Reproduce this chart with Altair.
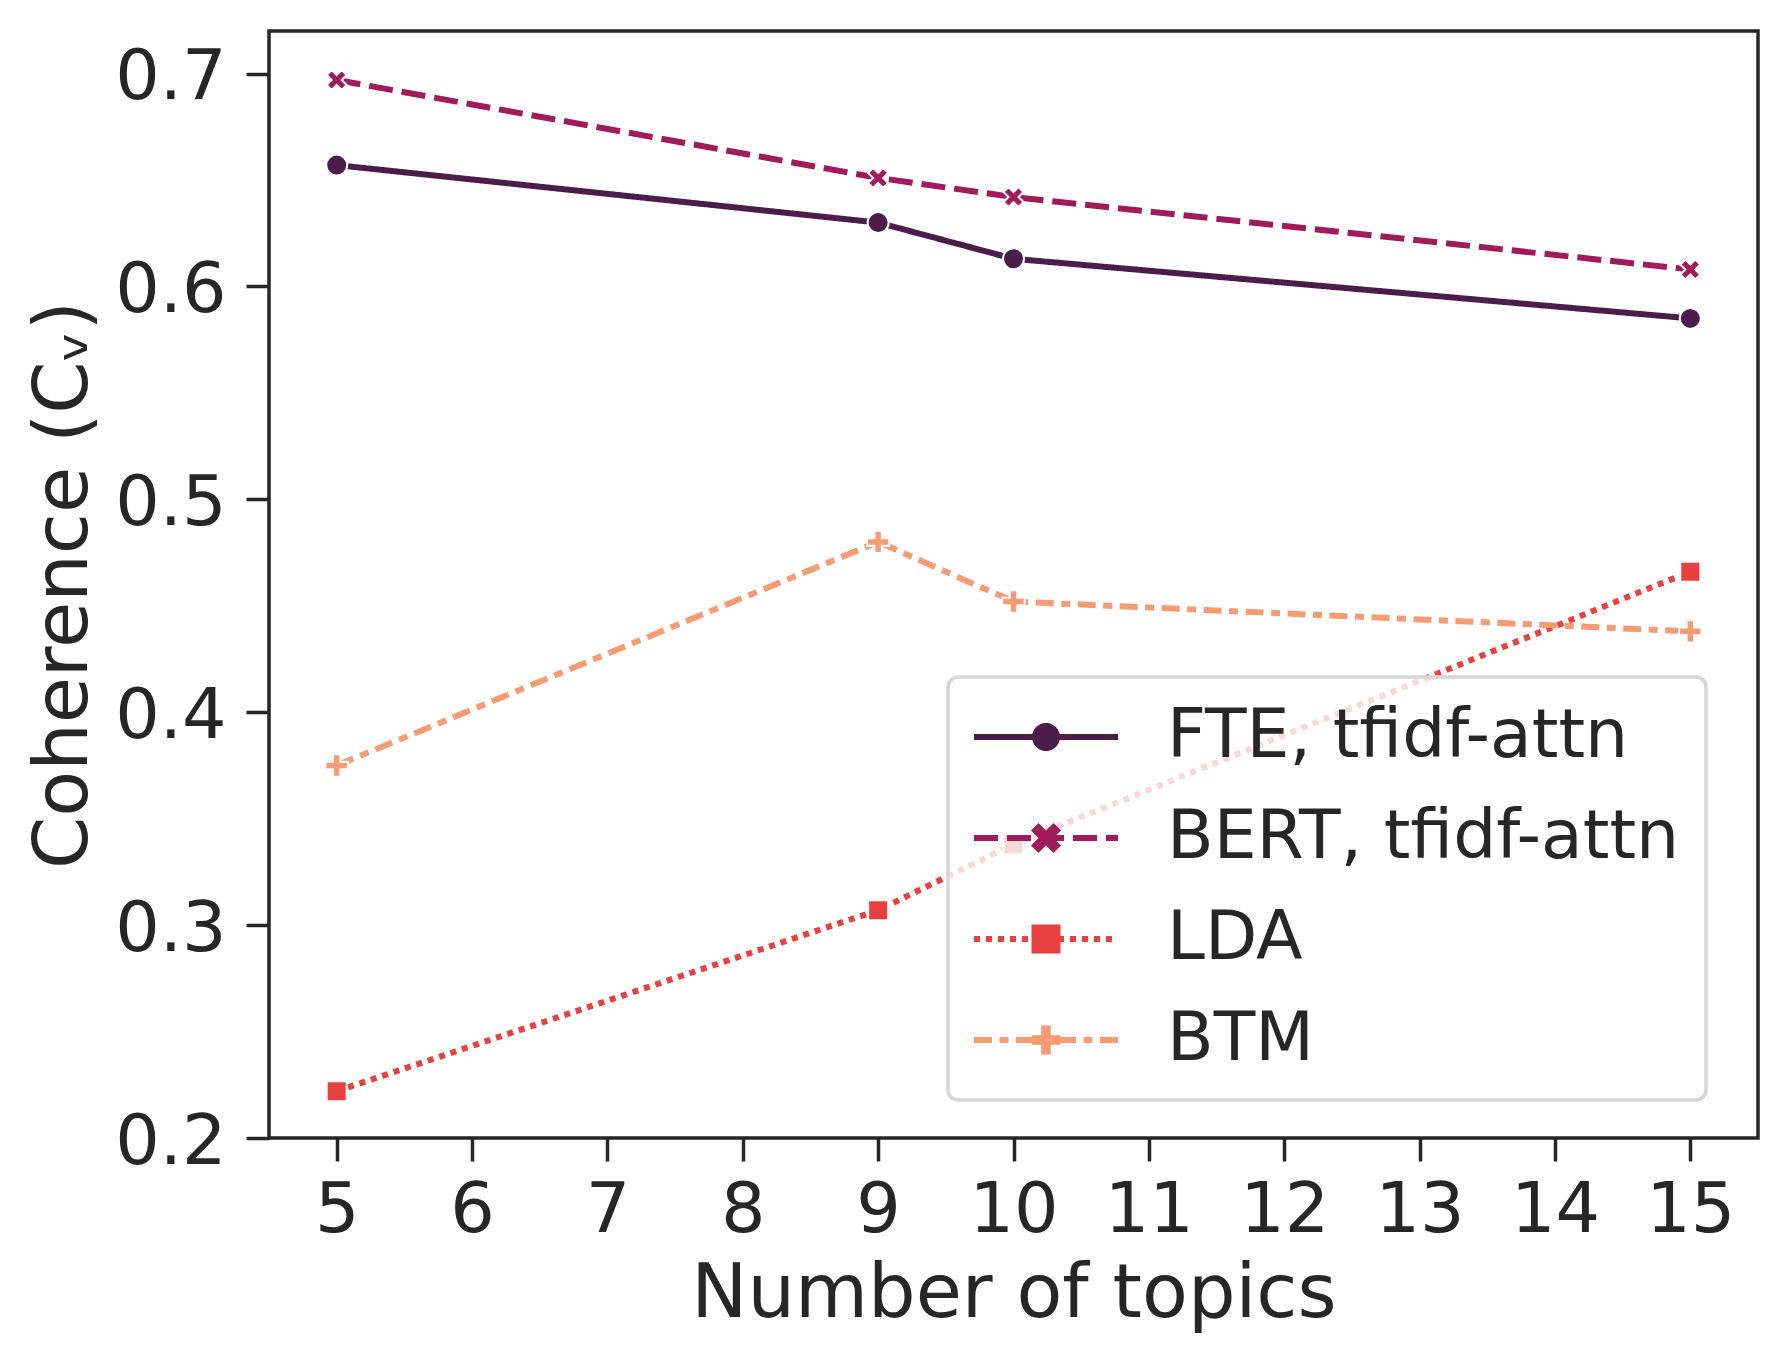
import math
import altair as alt
import pandas as pd

# ---------------- data ----------------
topics = [5, 9, 10, 15]
series = ["FTE, tfidf-attn", "BERT, tfidf-attn", "LDA", "BTM"]
fte = [0.657, 0.630, 0.613, 0.585]
bert = [0.697, 0.651, 0.642, 0.608]
lda = [0.222, 0.307, 0.338, 0.466]
btm = [0.375, 0.480, 0.452, 0.438]
colors = ["#4c1d4b", "#a11a5b", "#e83f3f", "#f69c73"]
y_ticks = [0.2, 0.3, 0.4, 0.5, 0.6, 0.7]
x_ticks = list(range(5, 16))

values = {series[0]: fte, series[1]: bert, series[2]: lda, series[3]: btm}
rows = []
for s in series:
    for t, v in zip(topics, values[s]):
        rows.append({"topics": t, "coherence": v, "series": s})
df = pd.DataFrame(rows)

# ---------------- styles ----------------
INK = "#262626"
FONT = "DejaVu Sans"
LW = 6
dashes = [[1, 0], [24, 9], [6, 6], [18, 7.5, 9, 7.5]]

X_PTS = [(-1, -2), (0, -1), (1, -2), (2, -1), (1, 0), (2, 1), (1, 2), (0, 1),
         (-1, 2), (-2, 1), (-1, 0), (-2, -1)]
P_PTS = [(-1, -3), (1, -3), (1, -1), (3, -1), (3, 1), (1, 1), (1, 3), (-1, 3),
         (-1, 1), (-3, 1), (-3, -1), (-1, -1)]
SQ_PTS = [(-1, -1), (1, -1), (1, 1), (-1, 1)]
CIRC_PTS = [(math.cos(2 * math.pi * k / 48), math.sin(2 * math.pi * k / 48)) for k in range(48)]


def poly(pts, s):
    return "M" + "L".join(f"{x * s:.4f},{y * s:.4f}" for x, y in pts) + "Z"


# data markers (unit box -1..1)
data_shapes = ["circle", poly(X_PTS, 0.5), "square", poly(P_PTS, 1 / 3)]
data_sizes = [441, 400, 400, 500]

# legend symbols: line + marker in one path; U px per path unit
U = 33.0           # sqrt(symbolSize) / 2
HALF = 72.0        # half length of the legend line, px
HW = (LW / 2) / U


def dash_line(pattern):
    L = 2 * HALF
    segs = []
    if pattern == [1, 0]:
        segs = [(0, L)]
    else:
        pos, i = 0.0, 0
        while pos < L:
            d = pattern[i % len(pattern)]
            if i % 2 == 0:
                segs.append((pos, min(pos + d, L)))
            pos += d
            i += 1
    out = ""
    for a, b in segs:
        x0, x1 = (a - HALF) / U, (b - HALF) / U
        out += f"M{x0:.4f},{-HW:.4f}H{x1:.4f}V{HW:.4f}H{x0:.4f}Z"
    return out


legend_markers = [
    poly(CIRC_PTS, 14 / U),
    poly(X_PTS, 15 / U / 2),
    poly(SQ_PTS, 14.5 / U),
    poly(P_PTS, 14.5 / U / 3),
]
legend_shapes = [dash_line(d) + m for d, m in zip(dashes, legend_markers)]

x_enc = alt.X(
    "topics:Q",
    scale=alt.Scale(domain=[4.5, 15.5], nice=False, zero=False),
    axis=alt.Axis(values=x_ticks, title="Number of topics", format="d"),
)
y_enc = alt.Y(
    "coherence:Q",
    scale=alt.Scale(domain=[0.2, 0.72], nice=False, zero=False),
    axis=alt.Axis(values=y_ticks, title="Coherence (Cᵥ)", format=".1f"),
)
color_scale = alt.Scale(domain=series, range=colors)

base = alt.Chart(df)

# invisible layer that only carries the legend (placed first so its legend wins)
leg = alt.Legend(title=None, orient="none", legendX=679, legendY=646)
legend_layer = base.mark_point(filled=True, opacity=0).encode(
    x=x_enc,
    y=y_enc,
    color=alt.Color("series:N", scale=color_scale, legend=leg),
    shape=alt.Shape("series:N", scale=alt.Scale(domain=series, range=legend_shapes), legend=leg),
)

lines = base.mark_line(strokeWidth=LW).encode(
    x=x_enc,
    y=y_enc,
    color=alt.Color("series:N", scale=color_scale, legend=None),
    strokeDash=alt.StrokeDash("series:N", scale=alt.Scale(domain=series, range=dashes), legend=None),
)

marker_layers = []
for s, shp, sz in zip(series, data_shapes, data_sizes):
    marker_layers.append(
        base.transform_filter(alt.datum.series == s)
        .mark_point(shape=shp, size=sz, filled=True, opacity=1, stroke="white", strokeWidth=2)
        .encode(x=x_enc, y=y_enc, color=alt.Color("series:N", scale=color_scale, legend=None))
    )

chart = (
    alt.layer(legend_layer, lines, *marker_layers)
    .properties(
        width=1489,
        height=1107,
        padding={"left": 261, "top": 23, "right": 10, "bottom": 210},
        autosize=alt.AutoSizeParams(type="none"),
        background="white",
    )
    .configure(font=FONT)
    .configure_view(stroke=INK, strokeWidth=3.5)
    .configure_axis(
        domain=False,
        grid=False,
        ticks=True,
        tickColor=INK,
        tickWidth=3.5,
        tickSize=23,
        labelFont=FONT,
        labelFontSize=70,
        labelColor=INK,
        titleFont=FONT,
        titleFontSize=75,
        titleFontWeight="normal",
        titleColor=INK,
    )
    .configure_axisX(labelPadding=15, titlePadding=12)
    .configure_axisY(labelPadding=20, titlePadding=12, labelOffset=4)
    .configure_legend(
        padding=26,
        fillColor="rgba(255,255,255,0.8)",
        strokeColor="#d6d6d6",
        strokeWidth=3.5,
        cornerRadius=10,
        labelFont=FONT,
        labelFontSize=68,
        labelColor=INK,
        labelOffset=87,
        labelLimit=1000,
        rowPadding=33,
        symbolSize=(2 * U) ** 2,
        symbolOffset=HALF - U - 1,
        symbolStrokeWidth=0,
        symbolOpacity=1,
    )
)

chart.save("out.html", embed_options={"renderer": "svg", "actions": False})
